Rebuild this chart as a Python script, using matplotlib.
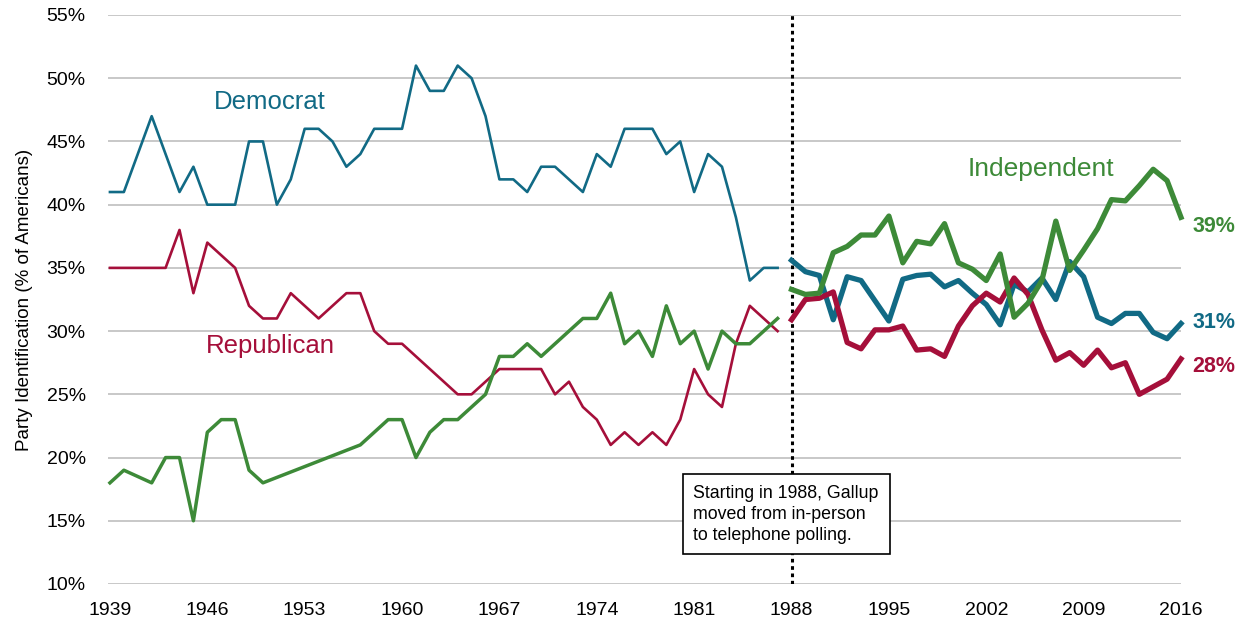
import matplotlib.pyplot as plt
from matplotlib.ticker import FuncFormatter

# Gallup party identification, in-person era (annual points)
dem_years_old = [1939, 1940, 1942, 1944, 1945, 1946, 1948, 1949, 1950, 1951, 1952, 1953,
                 1954, 1955, 1956, 1957, 1958, 1960, 1961, 1962, 1963, 1964, 1965, 1966,
                 1967, 1968, 1969, 1970, 1971, 1973, 1974, 1975, 1976, 1978, 1979, 1980,
                 1981, 1982, 1983, 1984, 1985, 1986, 1987]
dem_old = [41, 41, 47, 41, 43, 40, 40, 45, 45, 40, 42, 46,
           46, 45, 43, 44, 46, 46, 51, 49, 49, 51, 50, 47,
           42, 42, 41, 43, 43, 41, 44, 43, 46, 46, 44, 45,
           41, 44, 43, 39, 34, 35, 35]

rep_years_old = [1939, 1940, 1942, 1943, 1944, 1945, 1946, 1948, 1949, 1950, 1951, 1952,
                 1954, 1956, 1957, 1958, 1959, 1960, 1964, 1965, 1967, 1970, 1971, 1972,
                 1973, 1974, 1975, 1976, 1977, 1978, 1979, 1980, 1981, 1982, 1983, 1984,
                 1985, 1986, 1987]
rep_old = [35, 35, 35, 35, 38, 33, 37, 35, 32, 31, 31, 33,
           31, 33, 33, 30, 29, 29, 25, 25, 27, 27, 25, 26,
           24, 23, 21, 22, 21, 22, 21, 23, 27, 25, 24, 29,
           32, 31, 30]

ind_years_old = [1939, 1940, 1942, 1943, 1944, 1945, 1946, 1947, 1948, 1949, 1950, 1957,
                 1959, 1960, 1961, 1962, 1963, 1964, 1965, 1966, 1967, 1968, 1969, 1970,
                 1973, 1974, 1975, 1976, 1977, 1978, 1979, 1980, 1981, 1982, 1983, 1984,
                 1985, 1986, 1987]
ind_old = [18, 19, 18, 20, 20, 15, 22, 23, 23, 19, 18, 21,
           23, 23, 20, 22, 23, 23, 24, 25, 28, 28, 29, 28,
           31, 31, 33, 29, 30, 28, 32, 29, 30, 27, 30, 29,
           29, 30, 31]

# telephone era, 1988-2016
years_new = list(range(1988, 2017))
dem_new = [35.6, 34.7, 34.4, 30.9, 34.3, 34.0, 32.4, 30.8, 34.1, 34.4, 34.5, 33.5, 34.0, 33.0,
           32.1, 30.5, 33.7, 33.1, 34.2, 32.5, 35.5, 34.3, 31.1, 30.6, 31.4, 31.4, 29.9, 29.4, 30.6]
rep_new = [30.9, 32.5, 32.6, 33.1, 29.1, 28.6, 30.1, 30.1, 30.4, 28.5, 28.6, 28.0, 30.4, 32.0,
           33.0, 32.3, 34.2, 32.9, 30.1, 27.7, 28.3, 27.3, 28.5, 27.1, 27.5, 25.0, 25.6, 26.2, 27.8]
ind_new = [33.3, 32.9, 33.0, 36.2, 36.7, 37.6, 37.6, 39.1, 35.4, 37.1, 36.9, 38.5, 35.4, 34.9,
           34.0, 36.1, 31.1, 32.2, 34.0, 38.7, 34.8, 36.4, 38.1, 40.4, 40.3, 41.5, 42.8, 41.9, 39.0]

x_ticks = list(range(1939, 2017, 7))
end_labels = ['39%', '31%', '28%']

DEM = '#116a85'
REP = '#a50f3a'
IND = '#3d8a38'
FONT = ['Liberation Sans', 'DejaVu Sans']

fig = plt.figure(figsize=(12.47, 6.26), dpi=100)
ax = fig.add_axes([108 / 1247, 42 / 626, 1073 / 1247, 569 / 626])

ax.plot(dem_years_old, dem_old, color=DEM, lw=1.9, clip_on=False)
ax.plot(rep_years_old, rep_old, color=REP, lw=1.9, clip_on=False)
ax.plot(ind_years_old, ind_old, color=IND, lw=2.5, clip_on=False)
ax.plot(years_new, dem_new, color=DEM, lw=3.8, clip_on=False, solid_joinstyle='round')
ax.plot(years_new, rep_new, color=REP, lw=3.8, clip_on=False, solid_joinstyle='round')
ax.plot(years_new, ind_new, color=IND, lw=3.8, clip_on=False, solid_joinstyle='round')

ax.axvline(1988, color='black', lw=2.2, ls=(0, (1.2, 1.2)), zorder=1)

ax.set_xlim(1938.86, 2016)
ax.set_ylim(10, 55)
ax.set_xticks(x_ticks)
ax.set_yticks(range(10, 56, 5))
ax.yaxis.set_major_formatter(FuncFormatter(lambda v, p: f'{v:.0f}%'))
ax.grid(axis='y', color='#c4c4c4', lw=1.3)
ax.set_axisbelow(True)
for s in ax.spines.values():
    s.set_visible(False)
ax.tick_params(length=0, labelsize=14, pad=13)
ax.tick_params(axis='y', pad=16)
for lab in ax.get_xticklabels() + ax.get_yticklabels():
    lab.set_family(FONT)
ax.set_ylabel('Party Identification (% of Americans)', fontsize=13.5, family=FONT, labelpad=10)

ax.text(1950.5, 48.1, 'Democrat', color=DEM, fontsize=18.5, ha='center', va='center', family=FONT)
ax.text(1950.5, 28.8, 'Republican', color=REP, fontsize=18.5, ha='center', va='center', family=FONT)
ax.text(2005.9, 42.8, 'Independent', color=IND, fontsize=19, ha='center', va='center', family=FONT)

for val, txt, col in zip([38.3, 30.7, 27.2], end_labels, [IND, DEM, REP]):
    ax.annotate(txt, (2016, val), xytext=(8, 0), textcoords='offset points',
                color=col, fontsize=15.5, fontweight='bold', va='center', family=FONT,
                annotation_clip=False)

ax.text(1980.95, 17.85, 'Starting in 1988, Gallup\nmoved from in-person\nto telephone polling.',
        fontsize=12.8, va='top', ha='left', family=FONT, linespacing=1.3,
        bbox=dict(boxstyle='square,pad=0.6', fc='white', ec='black', lw=1.2), zorder=5)

fig.savefig('out.png', dpi=100)
